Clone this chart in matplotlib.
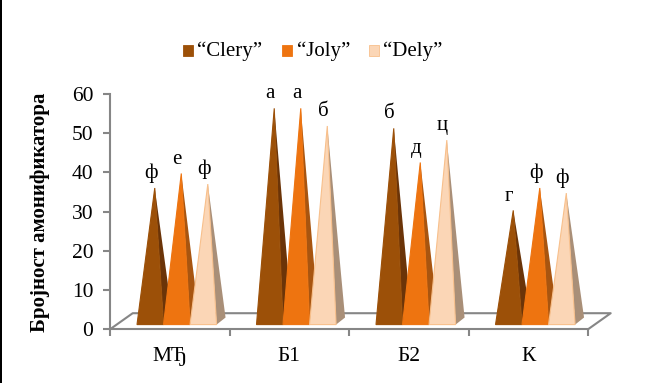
import matplotlib
matplotlib.use('Agg')
import matplotlib.pyplot as plt
from matplotlib.patches import Polygon, Rectangle

plt.rcParams['font.family'] = ['Liberation Serif', 'DejaVu Serif']

categories = ['МЂ', 'Б1', 'Б2', 'К']
series = ['“Clery”', '“Joly”', '“Dely”']
clery = [36, 56.3, 51.2, 30.3]
joly = [39.7, 56.3, 42.5, 36]
dely = [37, 51.8, 48.2, 34.7]
clery_letters = ['ф', 'а', 'б', 'г']
joly_letters = ['е', 'а', 'д', 'ф']
dely_letters = ['ф', 'б', 'ц', 'ф']
yticks = [0, 10, 20, 30, 40, 50, 60]
ylabel = 'Бројност амонификатора'

front_colors = ['#9C5008', '#EE7410', '#FBD6B6']
side_colors = ['#6B3408', '#A85510', '#A98F78']
edge_colors = ['#9C5008', '#EE7410', '#F8C08C']
grey = '#868686'

W, H = 651, 383
fig = plt.figure(figsize=(W / 100, H / 100), dpi=100)
ax = fig.add_axes([110 / W, (H - 329.3) / H, 478 / W, 235.5 / H])
ax.set_xlim(0, 4)
ax.set_ylim(0, 60)
ax.patch.set_alpha(0)

for s in ['top', 'right']:
    ax.spines[s].set_visible(False)
for s in ['left', 'bottom']:
    ax.spines[s].set_color(grey)
    ax.spines[s].set_linewidth(1.5)

ax.set_yticks(yticks)
ax.set_xticks(range(5))
ax.set_xticklabels([])
ax.tick_params(axis='y', length=5, width=1.5, color=grey, labelsize=15.5, pad=7)
ax.tick_params(axis='x', length=5, width=1.5, color=grey)

# floor of the 3d box
fdx = 0.19
fy = 4.1
ax.plot([0, fdx, 4 + fdx, 4], [0, fy, fy, 0], color=grey, lw=1.5, clip_on=False, zorder=1)

# pyramids, in drawing order so the next one hides the side of the last
bw = 0.222
start = 0.226
dx = 0.075
dy = 1.8
base = 1.2
z = 3
for s, (vals, letters) in enumerate(zip([clery, joly, dely],
                                        [clery_letters, joly_letters, dely_letters])):
    for i, v in enumerate(vals):
        x0 = i + start + s * bw
        x1 = x0 + bw
        ax_top = (x0 + x1 + dx) / 2
        ax.add_patch(Polygon([(x1, base), (x1 + dx, base + dy), (ax_top, v)],
                             fc=side_colors[s], ec='none', zorder=z, clip_on=False))
        ax.add_patch(Polygon([(x0, base), (x1, base), (ax_top, v)],
                             fc=front_colors[s], ec=edge_colors[s], lw=0.8,
                             zorder=z + 1, clip_on=False))
        ax.annotate(letters[i], (ax_top, v), xytext=(-3, 3.5), textcoords='offset points',
                    ha='center', va='bottom', fontsize=15, color='black', zorder=20)
        z += 2

for i, c in enumerate(categories):
    ax.text(i + 0.5, -6.9, c, ha='center', va='center', fontsize=15.5, color='black')

fig.text(40 / W, 1 - 212 / H, ylabel, rotation=90, ha='center', va='center',
         fontsize=15, fontweight='bold', color='black')

# legend by hand so it sits where the original one does
leg_sq = [183, 282, 369]
for px, name, col, ec in zip(leg_sq, series, front_colors, edge_colors):
    fig.add_artist(Rectangle((px / W, 1 - 55.5 / H), 10 / W, 10 / H,
                             transform=fig.transFigure, fc=col, ec=ec, lw=0.6))
    fig.text((px + 14.5) / W, 1 - 51 / H, name, ha='left', va='center', fontsize=15, color='black')

# black line down the left edge of the picture
fig.add_artist(Rectangle((0, 0), 2 / W, 1, transform=fig.transFigure, fc='black', ec='none'))

fig.savefig('out.png', dpi=100, facecolor='white')
